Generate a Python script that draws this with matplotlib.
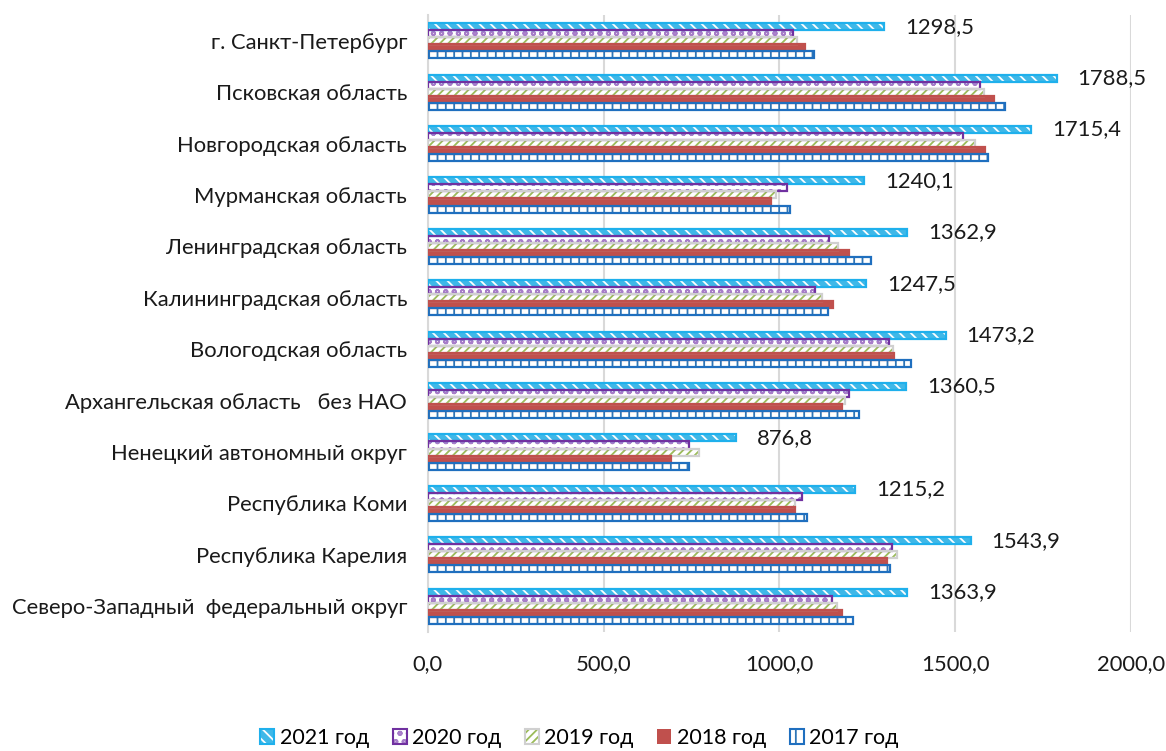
import numpy as np
import matplotlib
matplotlib.use("Agg")
import matplotlib.pyplot as plt
from matplotlib.patches import Patch
from matplotlib.legend_handler import HandlerTuple

plt.rcParams["font.family"] = ["Lato", "DejaVu Sans"]
plt.rcParams["hatch.linewidth"] = 1.3

regions = [
    "Северо-Западный  федеральный округ",
    "Республика Карелия",
    "Республика Коми",
    "Ненецкий автономный округ",
    "Архангельская область   без НАО",
    "Вологодская область",
    "Калининградская область",
    "Ленинградская область",
    "Мурманская область",
    "Новгородская область",
    "Псковская область",
    "г. Санкт-Петербург",
]
years = ["2021 год", "2020 год", "2019 год", "2018 год", "2017 год"]

v2021 = [1363.9, 1543.9, 1215.2, 876.8, 1360.5, 1473.2, 1247.5, 1362.9, 1240.1, 1715.4, 1788.5, 1298.5]
v2020 = [1149, 1320, 1064, 742, 1198, 1312, 1101, 1141, 1021, 1522, 1570, 1038]
v2019 = [1163, 1334, 1044, 771, 1186, 1323, 1121, 1166, 990, 1556, 1582, 1050]
v2018 = [1178, 1306, 1044, 691, 1178, 1326, 1152, 1198, 976, 1585, 1610, 1072]
v2017 = [1210, 1314, 1078, 742, 1226, 1374, 1138, 1260, 1030, 1593, 1641, 1098]
series = [v2021, v2020, v2019, v2018, v2017]

# face, hatch colour, hatch, outline
styles = [
    ("#3FB8E8", "white", "\\\\\\", "#1FB0EC"),
    ("white", "#A77DC9", "oo", "#7030A0"),
    ("white", "#9BBB59", "////", "#D0D0D0"),
    ("#C0504D", None, None, "#C0504D"),
    ("white", "#2E75B6", "||", "#1F6FBF"),
]

fs = 15.8

fig = plt.figure(figsize=(11.66, 7.51), dpi=100)
ax = fig.add_axes([0.367, 0.1585, 0.603, 0.8215])

y = np.arange(len(regions))
bh = 0.137
for i, (vals, (face, hcol, hatch, edge)) in enumerate(zip(series, styles)):
    pos = y + (2 - i) * bh
    if hatch:
        ax.barh(pos, vals, height=bh, color=face, edgecolor=hcol, hatch=hatch,
                linewidth=0, zorder=3)
    else:
        ax.barh(pos, vals, height=bh, color=face, linewidth=0, zorder=3)
    ax.barh(pos, vals, height=bh, fill=False, edgecolor=edge, linewidth=1.6, zorder=4)

for yy, v in zip(y, v2021):
    ax.annotate(f"{v:.1f}".replace(".", ","), (v, yy + 2 * bh), xytext=(15, 0),
                textcoords="offset points", va="center", ha="left", fontsize=fs,
                color="#1a1a1a")

ax.set_xlim(0, 2000)
ax.set_ylim(-0.5, len(regions) - 0.5)
ax.set_xticks([0, 500, 1000, 1500, 2000])
ax.set_xticklabels(["0,0", "500,0", "1000,0", "1500,0", "2000,0"])
ax.set_yticks(y)
ax.set_yticklabels(regions)
ax.tick_params(axis="x", length=0, pad=16, labelsize=fs, colors="#1a1a1a")
ax.tick_params(axis="y", length=0, pad=15, labelsize=fs, colors="#1a1a1a")
ax.grid(axis="x", color="#D9D9D9", linewidth=1.5, zorder=0)
for s in ["top", "right", "bottom"]:
    ax.spines[s].set_visible(False)
ax.spines["left"].set_color("#D9D9D9")
ax.spines["left"].set_linewidth(1.5)

handles = []
for face, hcol, hatch, edge in styles:
    if hatch:
        handles.append((Patch(facecolor=face, edgecolor=hcol, hatch=hatch, linewidth=0),
                        Patch(fill=False, edgecolor=edge, linewidth=1.5)))
    else:
        handles.append(Patch(facecolor=face, linewidth=0))
fig.legend(handles, years, loc="center", bbox_to_anchor=(0.497, 0.0173), ncol=5,
           frameon=False, fontsize=15.5, handlelength=0.65, handleheight=0.65,
           handletextpad=0.25, columnspacing=1.1, borderpad=0,
           handler_map={tuple: HandlerTuple(ndivide=1, pad=0)})

fig.savefig("out.png", dpi=100)
